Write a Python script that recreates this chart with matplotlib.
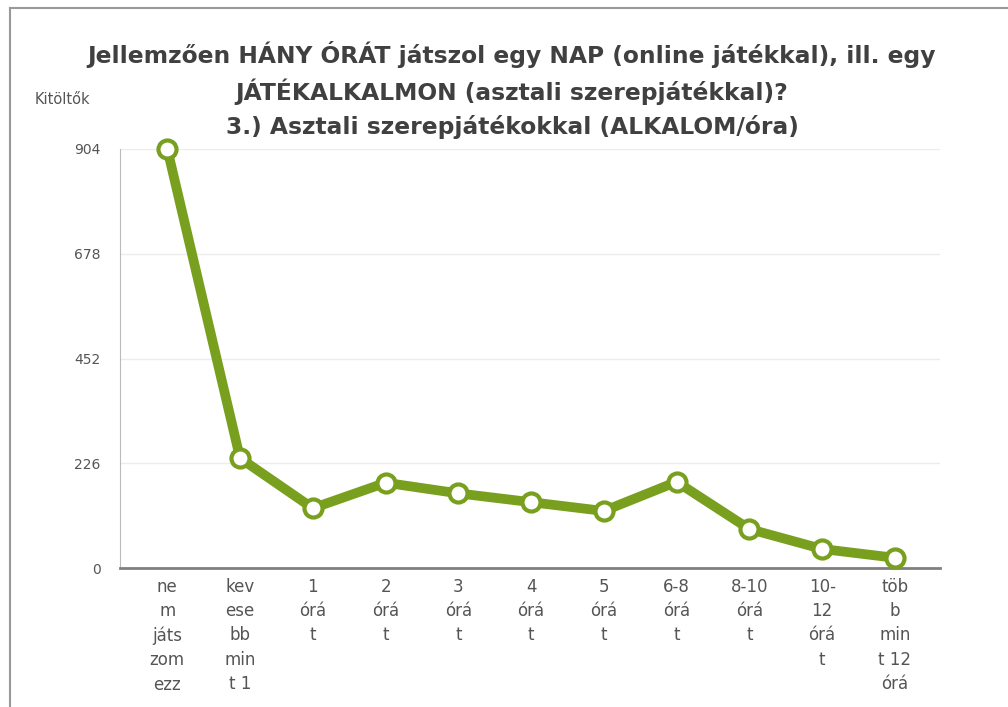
import matplotlib.pyplot as plt
from matplotlib.lines import Line2D

## DATA ##
categories = ["ne\nm\njáts\nzom\nezz", "kev\nese\nbb\nmin\nt 1", "1\nórá\nt", "2\nórá\nt",
              "3\nórá\nt", "4\nórá\nt", "5\nórá\nt", "6-8\nórá\nt", "8-10\nórá\nt",
              "10-\n12\nórá\nt", "töb\nb\nmin\nt 12\nórá"]
counts = [904, 237, 129, 184, 161, 142, 123, 186, 84, 41, 22]
yticks = [0, 226, 452, 678, 904]

title = ("Jellemzően HÁNY ÓRÁT játszol egy NAP (online játékkal), ill. egy\n"
         "JÁTÉKALKALMON (asztali szerepjátékkal)?\n"
         "3.) Asztali szerepjátékokkal (ALKALOM/óra)")

green = "#78A01E"
text_gray = "#555555"

fig = plt.figure(figsize=(10.08, 7.07), dpi=100)
ax = fig.add_axes([120 / 1008, 1 - 568 / 707, 820 / 1008, 419 / 707])

x = list(range(len(counts)))
ax.plot(x, counts, color=green, lw=7, solid_capstyle="butt", zorder=3,
        marker="o", markersize=13, markerfacecolor="white",
        markeredgecolor=green, markeredgewidth=3, clip_on=False)

ax.set_xlim(-0.65, 10.62)
ax.set_ylim(0, 904)
ax.set_yticks(yticks)
ax.set_yticklabels([str(v) for v in yticks], fontsize=10, color=text_gray)
ax.set_xticks(x)
ax.set_xticklabels(categories, fontsize=12, color=text_gray, linespacing=1.45,
                   va="top")
ax.tick_params(axis="x", length=0, pad=7)
ax.tick_params(axis="y", length=0, pad=14)

for v in yticks[1:]:
    ax.axhline(v, color="#ececec", lw=1, zorder=1)

for s in ["top", "right"]:
    ax.spines[s].set_visible(False)
ax.spines["left"].set_color("#bbbbbb")
ax.spines["bottom"].set_color("#808080")
ax.spines["bottom"].set_linewidth(2)

fig.text(35 / 1008, 1 - 100 / 707, "Kitöltők", fontsize=10.5, color=text_gray,
         va="center", ha="left")
fig.text(512 / 1008, 1 - 90 / 707, title, fontsize=16.8, fontweight="bold",
         color="#404040", ha="center", va="center", linespacing=1.5)

# outer frame (top and left edge)
fig.add_artist(Line2D([10 / 1008, 10 / 1008], [0, 1 - 8 / 707], color="#999999", lw=1.5))
fig.add_artist(Line2D([10 / 1008, 1], [1 - 8 / 707, 1 - 8 / 707], color="#999999", lw=1.5))

fig.savefig("out.png", dpi=100)
